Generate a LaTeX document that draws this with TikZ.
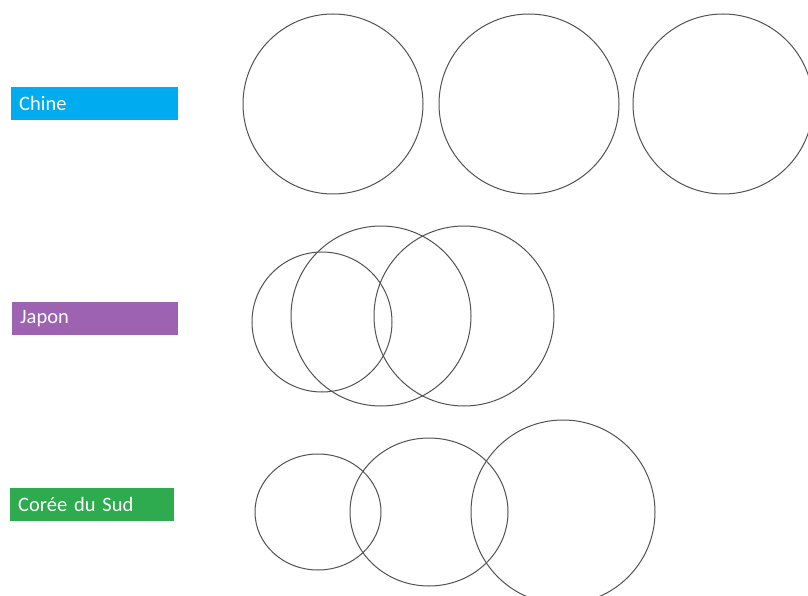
\documentclass[tikz,border=0pt]{standalone}
\usepackage{fontspec}
\setsansfont{Carlito}
\definecolor{chine}{HTML}{00ABEF}
\definecolor{japon}{HTML}{9E62B2}
\definecolor{coree}{HTML}{2EAA4F}
\tikzset{
  ring/.style = {draw = black!68, line width = 1pt},
  pays/.style = {anchor = north west, minimum height = 33pt, inner xsep = 8pt,
                 text = white, align = left, font = \sffamily\fontsize{20.5}{24}\selectfont}
}
\begin{document}
\begin{tikzpicture}[x = 1pt, y = -1pt]
\clip (0,0) rectangle (808,596);
\fill[white] (0,0) rectangle (808,596);
% labels
\node[pays, fill = chine, text width = 151pt] (chine) at (11,87) {Chine};
\node[pays, fill = japon, text width = 150pt] (japon) at (12,302) {Japon};
\node[pays, fill = coree, text width = 148pt] (coree) at (10,488) {Corée du Sud};
% circles
\foreach \cx / \cy / \rx / \ry in {333/104/90/90, 529/104/90/90, 723/104/90/90,
                                   322/322/70/70, 381/316/90/90, 464/316/90/90,
                                   318/512/63/58, 429/512/79/74, 563/512/92/92}
{
	\draw[ring] (\cx,\cy) ellipse [x radius = \rx, y radius = \ry];
}
\end{tikzpicture}
\end{document}
